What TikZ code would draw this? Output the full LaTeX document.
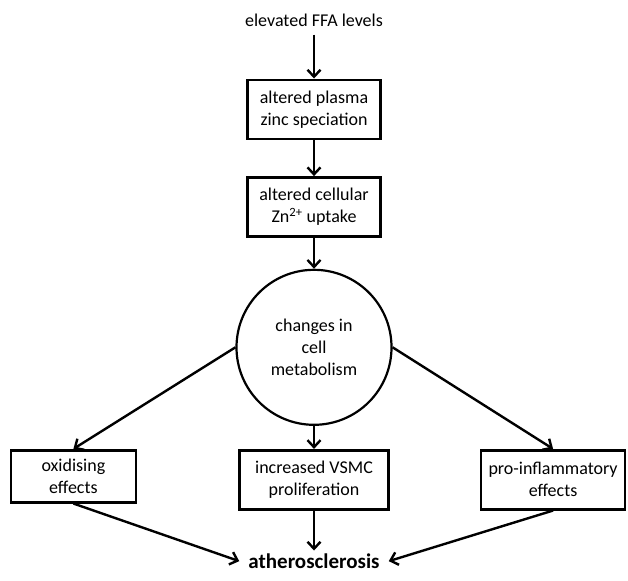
\documentclass[tikz,border=0pt]{standalone}
\usepackage{fontspec}
\setmainfont{Carlito}
\usetikzlibrary{arrows.meta,positioning}

\begin{document}
\begin{tikzpicture}[auto, node distance=36pt, >={Straight Barb[length=7pt,width=13pt]}, font=\fontsize{18}{22}\selectfont]
		
		\tikzstyle{all} = [draw, line width=2.6pt, fill=white, align=center]
		\tikzstyle{block} = [rectangle, all, minimum height=59pt]
		\tikzstyle{round} = [circle, all, line width=2.2pt, minimum size=155pt, inner sep=0pt]
		\tikzstyle{conn} = [->, line width=2.4pt]
		
		\useasboundingbox (0,0) rectangle (628pt,-580pt);
		
		\node [inner sep=8pt] (ffa) at (314pt,-20pt) {elevated FFA levels};
		\node [block, minimum width=133pt, below=44pt of ffa] (plasma) {altered plasma\\zinc speciation};
		\node [block, minimum width=133pt, below = of plasma] (uptake) {altered cellular\\Zn\textsuperscript{2+} uptake};
		\node [round, below=31pt of uptake] (metab) {changes in\\cell\\metabolism};
		
		% untere Reihe: Mitte zuerst, dann links und rechts
		\node [block, minimum width=149pt, below=23pt of metab] (vsmc) {increased VSMC\\proliferation};
		\node [block, minimum width=125pt, minimum height=52pt, left=101pt of vsmc.north west, anchor=north east] (oxid) {oxidising\\effects};
		\node [block, minimum width=144pt, right=90pt of vsmc.north east, anchor=north west] (infl) {pro-inflammatory\\effects};
		
		\node [below=40pt of vsmc, font=\fontsize{21}{25}\selectfont\bfseries, inner xsep=9pt, inner ysep=3pt] (athero) {atherosclerosis};
		
		\draw [conn] (ffa) -- (plasma);
		\draw [conn] (plasma) -- (uptake);
		\draw [conn] (uptake) -- (metab);
		\draw [conn] (metab.west) -- (oxid.north);
		\draw [conn] (metab) -- (vsmc);
		\draw [conn] (metab.east) -- (infl.north);
		\draw [conn] (oxid.south) -- (athero.west);
		\draw [conn] (vsmc) -- (athero);
		\draw [conn] (infl.south) -- (athero.east);
		
\end{tikzpicture}
\end{document}
